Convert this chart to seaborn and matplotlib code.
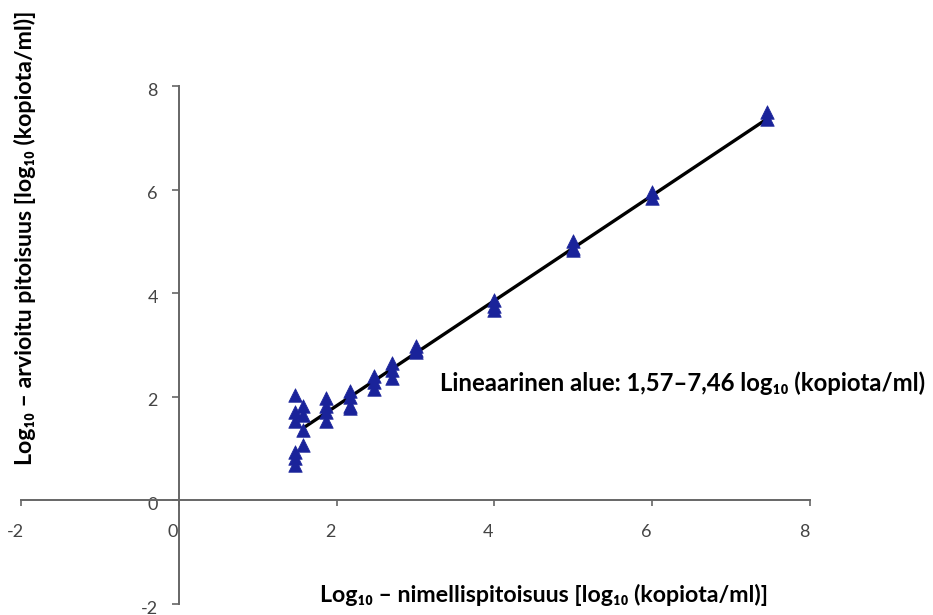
import matplotlib
matplotlib.use("Agg")
import matplotlib.pyplot as plt
import matplotlib.transforms as mtransforms
import seaborn as sns
import pandas as pd

# Data
nominal = [1.47, 1.47, 1.47, 1.47, 1.47, 1.47,
           1.57, 1.57, 1.57, 1.57,
           1.87, 1.87, 1.87, 1.87,
           2.17, 2.17, 2.17, 2.17,
           2.47, 2.47, 2.47,
           2.70, 2.70, 2.70,
           3.00, 3.00, 3.00,
           4.00, 4.00, 4.00,
           5.00, 5.00, 5.00,
           6.00, 6.00,
           7.46, 7.46]
estimated = [2.03, 1.70, 1.54, 0.93, 0.81, 0.68,
             1.83, 1.64, 1.35, 1.06,
             1.97, 1.83, 1.70, 1.54,
             2.12, 1.99, 1.83, 1.78,
             2.41, 2.28, 2.16,
             2.66, 2.51, 2.36,
             2.99, 2.90, 2.86,
             3.86, 3.76, 3.67,
             5.00, 4.88, 4.83,
             5.95, 5.83,
             7.50, 7.37]
fit_x = [1.57, 7.46]
fit_y = [1.39, 7.37]
tick_values = [-2, 0, 2, 4, 6, 8]

xlabel = "Log₁₀ – nimellispitoisuus [log₁₀ (kopiota/ml)]"
ylabel = "Log₁₀ – arvioitu pitoisuus [log₁₀ (kopiota/ml)]"
annotation = "Lineaarinen alue: 1,57–7,46 log₁₀ (kopiota/ml)"

sns.set_theme(style="white")
plt.rcParams["font.family"] = ["Lato", "DejaVu Sans"]

df = pd.DataFrame({"nominal": nominal, "estimated": estimated})
fit = pd.DataFrame({"x": fit_x, "y": fit_y})

W, H = 933, 615
fig = plt.figure(figsize=(W / 100, H / 100), dpi=100)
ax = fig.add_axes([21 / W, (H - 604) / H, (810 - 21) / W, (604 - 86) / H])

sns.lineplot(data=fit, x="x", y="y", ax=ax, color="black", linewidth=2.4, zorder=2)
sns.scatterplot(data=df, x="nominal", y="estimated", ax=ax, marker="^",
                color="#1a239a", s=95, edgecolor="#1a239a", linewidth=0.5,
                zorder=3, clip_on=False)

ax.set_xlim(-2, 8)
ax.set_ylim(-2, 8)
ax.set_xticks(tick_values)
ax.set_yticks(tick_values)
ax.set_xticklabels([str(v) for v in tick_values])
ax.set_yticklabels([str(v) for v in tick_values])

for side in ["top", "right"]:
    ax.spines[side].set_visible(False)
ax.spines["left"].set_position(("data", 0))
ax.spines["bottom"].set_position(("data", 0))
for side in ["left", "bottom"]:
    ax.spines[side].set_color("#666666")
    ax.spines[side].set_linewidth(1.4)

ax.tick_params(axis="x", bottom=True, direction="out", length=4, width=1.2,
               color="#666666", pad=13, labelsize=13, labelcolor="#444444")
ax.tick_params(axis="y", left=True, direction="out", length=5, width=1.2,
               color="#666666", pad=10, labelsize=13, labelcolor="#444444")
offset = mtransforms.ScaledTranslation(-6 / 100, 0, fig.dpi_scale_trans)
for lab in ax.get_xticklabels():
    lab.set_transform(lab.get_transform() + offset)
offy = mtransforms.ScaledTranslation(0, -3 / 100, fig.dpi_scale_trans)
for lab in ax.get_yticklabels():
    lab.set_transform(lab.get_transform() + offy)

ax.set_xlabel("")
ax.set_ylabel("")
fig.text(544 / W, 1 - 595 / H, xlabel, ha="center", va="center",
         fontsize=16.7, fontweight="bold", color="black")
fig.text(25 / W, 1 - 238 / H, ylabel, ha="center", va="center", rotation=90,
         fontsize=16.7, fontweight="bold", color="black")
ax.text(3.31, 2.26, annotation, ha="left", va="center",
        fontsize=17.2, fontweight="bold", color="black")

fig.savefig("out.png", dpi=100)
